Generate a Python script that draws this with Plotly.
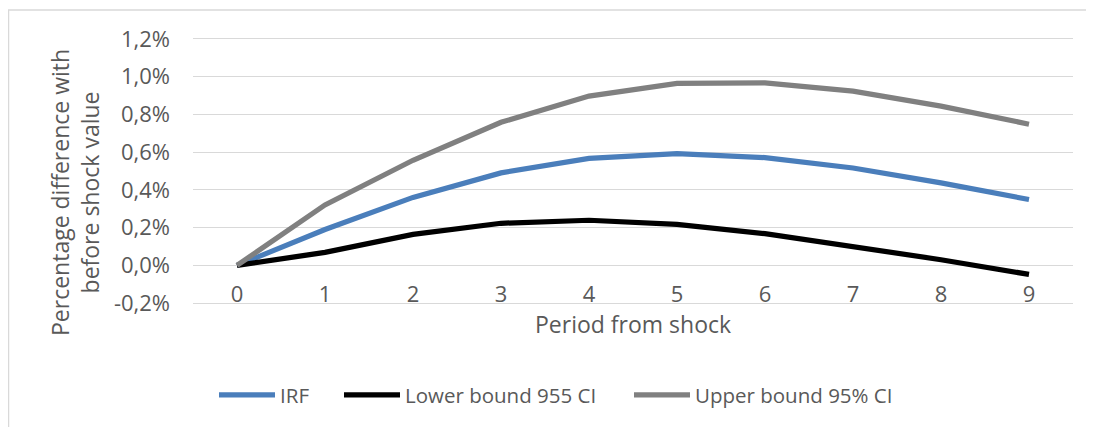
import plotly.graph_objects as go

periods = [0, 1, 2, 3, 4, 5, 6, 7, 8, 9]
irf = [0.0, 0.19, 0.36, 0.49, 0.567, 0.592, 0.571, 0.516, 0.437, 0.349]
lower = [0.0, 0.069, 0.164, 0.223, 0.239, 0.217, 0.168, 0.102, 0.030, -0.048]
upper = [0.0, 0.32, 0.557, 0.758, 0.897, 0.964, 0.967, 0.923, 0.844, 0.748]
series_names = ["IRF", "Lower bound 955 CI", "Upper bound 95% CI"]
series_colors = ["#4A7EBB", "#000000", "#808080"]
y_ticks = [-0.2, 0.0, 0.2, 0.4, 0.6, 0.8, 1.0, 1.2]
y_ticklabels = ["-0,2%", "0,0%", "0,2%", "0,4%", "0,6%", "0,8%", "1,0%", "1,2%"]
y_title = "Percentage difference with<br>before shock value"
x_title = "Period from shock"

FONT = "Open Sans"
TXT = "#595959"
GRID = "#D9D9D9"

OFF = 8  # page body margin
W, H = 1094 - OFF, 427 - OFF
# plot area in screen pixels (range padded by 0.01 on each side)
PX0, PX1, PY0, PY1 = 193, 1073, 37, 305
L = PX0 - OFF
T = PY0 - OFF
R = W - (PX1 - OFF)
B = H - (PY1 - OFF)
pw, ph = W - L - R, H - T - B


def px_x(px):
    return (px - OFF - L) / pw


def px_y(py):
    return (H - B - (py - OFF)) / ph


fig = go.Figure()
legend_ids = ["legend", "legend2", "legend3"]
for name, vals, col, lg in zip(series_names, [irf, lower, upper], series_colors, legend_ids):
    fig.add_trace(go.Scatter(
        x=periods, y=vals, mode="lines", name=name, legend=lg,
        line=dict(color=col, width=5.2),
    ))

legend_x = [222, 347, 637]
leg_common = dict(orientation="h", yanchor="middle", xanchor="left",
                  font=dict(size=20.5, color=TXT), itemwidth=56,
                  bgcolor="rgba(0,0,0,0)", borderwidth=0)

y_lo, y_hi = -0.21, 1.21
zero_pos = (0 - y_lo) / (y_hi - y_lo)

fig.update_layout(
    width=W, height=H,
    margin=dict(l=L, r=R, t=T, b=B, autoexpand=False),
    paper_bgcolor="white", plot_bgcolor="white",
    font=dict(family=FONT, size=22, color=TXT),
    showlegend=True,
    legend=dict(x=px_x(legend_x[0] - 8), y=px_y(395), **leg_common),
    legend2=dict(x=px_x(legend_x[1] - 8), y=px_y(395), **leg_common),
    legend3=dict(x=px_x(legend_x[2] - 8), y=px_y(395), **leg_common),
    xaxis=dict(range=[-0.5, 9.5], tickmode="array", tickvals=periods,
               ticktext=[str(p) for p in periods], showgrid=False, zeroline=False,
               showline=False, ticks="", anchor="free", position=zero_pos,
               ticklabelstandoff=14,
               tickfont=dict(size=22, color=TXT)),
    yaxis=dict(range=[y_lo, y_hi], tickmode="array", tickvals=y_ticks,
               ticktext=y_ticklabels, showgrid=True, gridcolor=GRID, gridwidth=1.3,
               zeroline=False, showline=False, ticks="", ticklabelstandoff=22,
               tickfont=dict(size=22, color=TXT)),
)

fig.add_annotation(text=x_title, xref="paper", yref="paper", x=0.5, y=px_y(324),
                   xanchor="center", yanchor="middle", showarrow=False,
                   font=dict(size=23, color=TXT))
fig.add_annotation(text=y_title, xref="paper", yref="paper", x=px_x(75), y=px_y(193),
                   xanchor="center", yanchor="middle", showarrow=False, textangle=-90,
                   font=dict(size=23, color=TXT))
fig.add_shape(type="rect", xref="paper", yref="paper",
              x0=px_x(8.5), x1=px_x(1110), y0=px_y(450), y1=px_y(10),
              line=dict(color=GRID, width=1.5), fillcolor="rgba(0,0,0,0)", layer="below")

fig.write_html("out.html")
